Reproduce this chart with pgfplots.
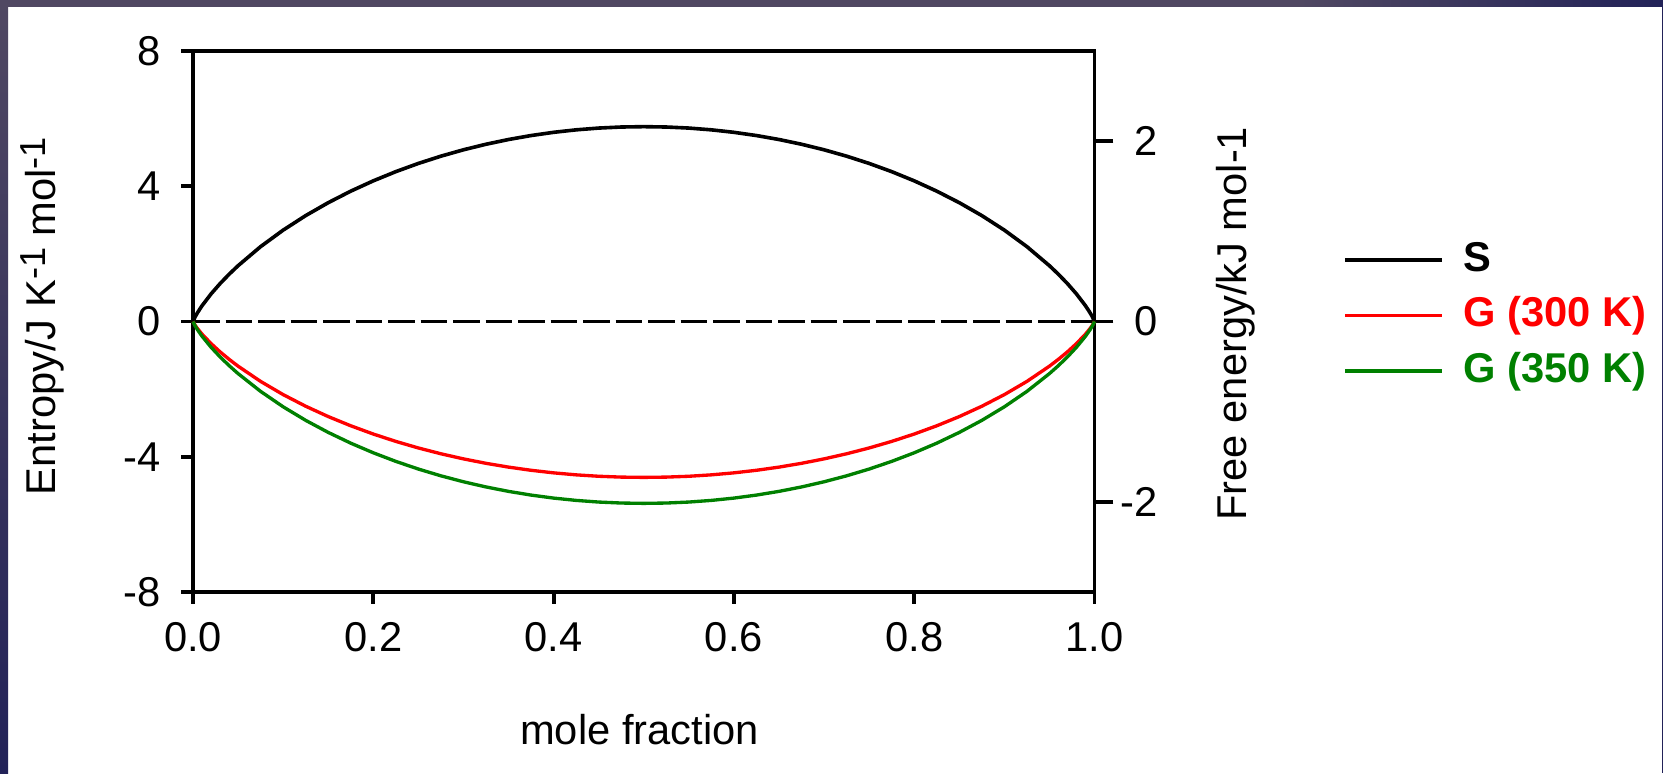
\documentclass[border=0pt]{standalone}
\usepackage{pgfplots}
\usepackage{pgfplotstable}
\pgfplotsset{compat=1.18}
\usepackage{fontspec}
\setmainfont{Liberation Sans}

\definecolor{frameA}{RGB}{80,72,98}
\definecolor{frameB}{RGB}{34,34,88}
\definecolor{ggreen}{RGB}{0,128,0}
\newcommand\fs{\fontsize{15}{18}\selectfont}

% x, entropy S (J/K/mol), G at 300 K and 350 K (kJ/mol)
\pgfplotstableread{
x S G300 G350
0 0 0 0
0.0025 0.1453 -0.0436 -0.0509
0.005 0.2617 -0.0785 -0.0916
0.01 0.4656 -0.1397 -0.1630
0.02 0.8151 -0.2445 -0.2853
0.03 1.1202 -0.3361 -0.3921
0.04 1.3963 -0.4189 -0.4887
0.05 1.6505 -0.4952 -0.5777
0.075 2.2147 -0.6644 -0.7751
0.1 2.7027 -0.8108 -0.9459
0.125 3.1325 -0.9398 -1.0964
0.15 3.5144 -1.0543 -1.2300
0.175 3.8554 -1.1566 -1.3494
0.2 4.1604 -1.2481 -1.4561
0.225 4.4327 -1.3298 -1.5514
0.25 4.6753 -1.4026 -1.6364
0.275 4.8900 -1.4670 -1.7115
0.3 5.0787 -1.5236 -1.7775
0.325 5.2427 -1.5728 -1.8349
0.35 5.3829 -1.6149 -1.8840
0.375 5.5002 -1.6501 -1.9251
0.4 5.5954 -1.6786 -1.9584
0.425 5.6689 -1.7007 -1.9841
0.45 5.7212 -1.7164 -2.0024
0.475 5.7524 -1.7257 -2.0133
0.5 5.7628 -1.7288 -2.0170
0.525 5.7524 -1.7257 -2.0133
0.55 5.7212 -1.7164 -2.0024
0.575 5.6689 -1.7007 -1.9841
0.6 5.5954 -1.6786 -1.9584
0.625 5.5002 -1.6501 -1.9251
0.65 5.3829 -1.6149 -1.8840
0.675 5.2427 -1.5728 -1.8349
0.7 5.0787 -1.5236 -1.7775
0.725 4.8900 -1.4670 -1.7115
0.75 4.6753 -1.4026 -1.6364
0.775 4.4327 -1.3298 -1.5514
0.8 4.1604 -1.2481 -1.4561
0.825 3.8554 -1.1566 -1.3494
0.85 3.5144 -1.0543 -1.2300
0.875 3.1325 -0.9398 -1.0964
0.9 2.7027 -0.8108 -0.9459
0.925 2.2147 -0.6644 -0.7751
0.95 1.6505 -0.4952 -0.5777
0.96 1.3963 -0.4189 -0.4887
0.97 1.1202 -0.3361 -0.3921
0.98 0.8151 -0.2445 -0.2853
0.99 0.4656 -0.1397 -0.1630
0.995 0.2617 -0.0785 -0.0916
0.9975 0.1453 -0.0436 -0.0509
1 0 0 0
}\mixdata

\begin{document}
\begin{tikzpicture}
% page and dark frame
\path[use as bounding box, fill=white] (0pt,0pt) rectangle (598.68pt,278.28pt);
\fill[frameA] (0pt,275.76pt) rectangle (468pt,278.28pt);
\shade[left color=frameA, right color=frameB] (468pt,275.76pt) rectangle (598.68pt,278.28pt);
\shade[top color=frameA, bottom color=frameB] (0pt,0pt) rectangle (2.88pt,278.28pt);
\fill[frameB] (598.2pt,0pt) rectangle (598.68pt,278.28pt);

% left axis: entropy
\begin{axis}[
    at={(69.48pt,65.16pt)}, anchor=south west,
    scale only axis, width=324.54pt, height=194.76pt,
    xmin=0, xmax=1, ymin=-8, ymax=8,
    xtick={0,0.2,0.4,0.6,0.8,1}, xticklabels={0.0,0.2,0.4,0.6,0.8,1.0},
    ytick={-8,-4,0,4,8}, yticklabels={-8,-4,0,4,8},
    xtick pos=left, ytick pos=left,
    tick align=outside, major tick length=4.3pt,
    axis line style={line width=1.4pt},
    tick style={line width=1.4pt, black},
    tick label style={font=\fs},
    xticklabel style={yshift=-3pt},
    yticklabel style={xshift=-3.8pt},
    xlabel={mole fraction},
    ylabel={Entropy/J K\raisebox{0.45ex}{\fontsize{13}{15}\selectfont -1} mol\raisebox{0.45ex}{\fontsize{13}{15}\selectfont -1}},
    every axis x label/.style={at={(axis description cs:0.4953,-0.2546)}, anchor=center, font=\fs},
    every axis y label/.style={at={(axis description cs:-0.1675,0.51)}, anchor=center, rotate=90, font=\fs},
    clip=false,
]
\addplot[black, line width=1.3pt] table[x=x, y=S] {\mixdata};
\addplot[black, line width=1.3pt, dash pattern=on 9.7pt off 2pt] coordinates {(0,0) (1,0)};
\end{axis}

% right axis: free energy
\begin{axis}[
    at={(69.48pt,65.16pt)}, anchor=south west,
    scale only axis, width=324.54pt, height=194.76pt,
    xmin=0, xmax=1, ymin=-3, ymax=3,
    axis x line=none, axis y line*=right,
    ytick={-2,0,2}, yticklabels={-2,0,2},
    tick align=outside, major tick length=6.8pt,
    axis line style={line width=1.4pt},
    tick style={line width=1.4pt, black},
    tick label style={font=\fs},
    yticklabel style={anchor=east, xshift=19.3pt},
    ylabel={Free energy/kJ mol-1},
    every axis y label/.style={at={(axis description cs:1.1565,0.496)}, anchor=center, rotate=90, font=\fs},
    clip=false,
    legend cell align=left,
    legend image code/.code={\draw[#1] (0pt,0pt) -- (34.9pt,0pt);},
    legend style={at={(axis description cs:1.2757,0.6506)}, anchor=north west,
        draw=none, fill=none, inner sep=0pt, font=\fs\bfseries,
        column sep=7pt, row sep=6pt,
        nodes={inner sep=0pt, text height=11pt, text depth=3pt}},
]
\addlegendimage{black, line width=1.3pt}
\addlegendentry{S}
\addplot[red, line width=1.2pt] table[x=x, y=G300] {\mixdata};
\addlegendentry{\textcolor{red}{G (300 K)}}
\addplot[ggreen, line width=1.2pt] table[x=x, y=G350] {\mixdata};
\addlegendentry{\textcolor{ggreen}{G (350 K)}}
\end{axis}
\end{tikzpicture}
\end{document}
